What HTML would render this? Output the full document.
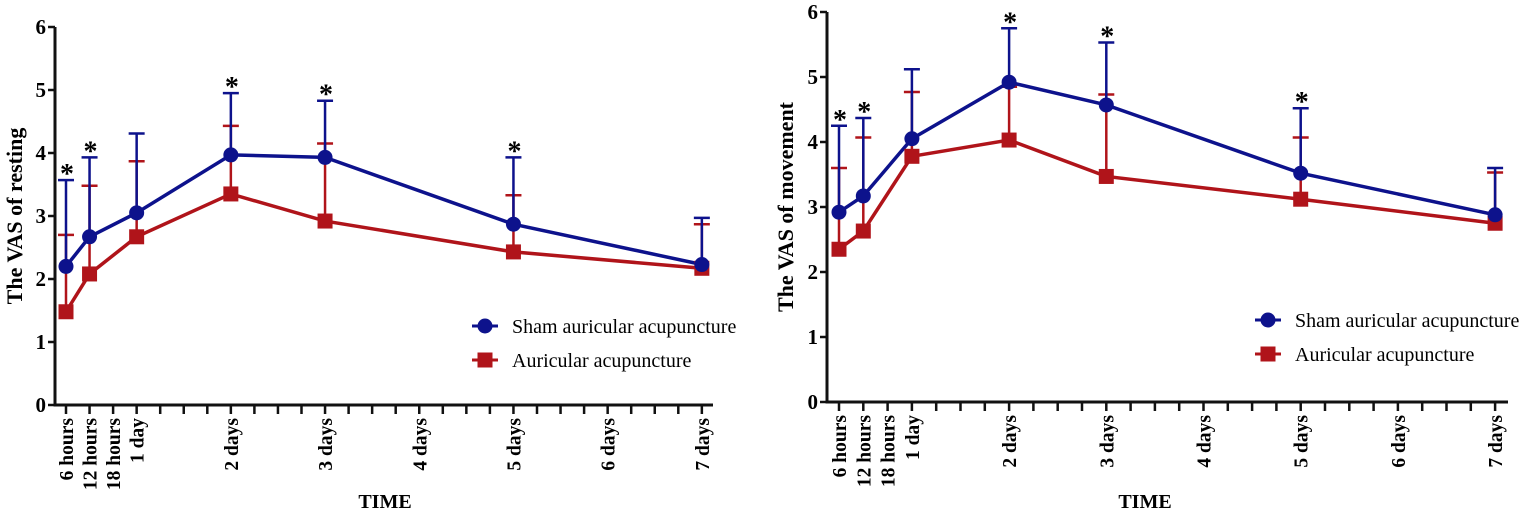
<!DOCTYPE html>
<html><head><meta charset="utf-8"><style>
html,body{margin:0;padding:0;background:#fff;}
svg text{font-family:"Liberation Serif",serif;}
</style></head><body>
<svg id="s" width="1535" height="514" xmlns="http://www.w3.org/2000/svg"></svg>
<script>
const s=document.getElementById('s');let h='';
const B='#0d128c',R='#b0141a';
function chart(c){
 const X=i=>c.x0+(i-1)*c.dx, Y=v=>c.y0-v*(c.y0-c.y6)/6;
 h+=`<line x1="${c.ax}" y1="${c.y6}" x2="${c.ax}" y2="${c.y0+1.5}" stroke="#111" stroke-width="3"/>`;
 h+=`<line x1="${c.ax}" y1="${c.y0}" x2="${c.xe}" y2="${c.y0}" stroke="#111" stroke-width="3"/>`;
 for(let v=0;v<=6;v++){h+=`<line x1="${c.ax-7}" y1="${Y(v)}" x2="${c.ax}" y2="${Y(v)}" stroke="#111" stroke-width="2.5"/>`;
  h+=`<text x="${c.ax-9}" y="${Y(v)+7}" font-size="21" font-weight="bold" text-anchor="end">${v}</text>`;}
 for(let i=1;i<=28;i++)h+=`<line x1="${X(i)}" y1="${c.y0}" x2="${X(i)}" y2="${c.y0+9}" stroke="#111" stroke-width="2.5"/>`;
 const labs={1:'6 hours',2:'12 hours',3:'18 hours',4:'1 day',8:'2 days',12:'3 days',16:'4 days',20:'5 days',24:'6 days',28:'7 days'};
 for(const k in labs){const x=X(+k)+7,y=c.y0+13;h+=`<text transform="translate(${x},${y}) rotate(-90)" font-size="19.5" font-weight="bold" text-anchor="end">${labs[k]}</text>`;}
 h+=`<text x="${c.tx}" y="508" font-size="20" font-weight="bold" text-anchor="middle">TIME</text>`;
 h+=`<text transform="translate(${c.lx},${(c.y0+c.y6)/2}) rotate(-90)" font-size="22" font-weight="bold" text-anchor="middle">${c.title}</text>`;
 const idx=[1,2,4,8,12,20,28];
 idx.forEach((i,k)=>{h+=`<line x1="${X(i)}" y1="${Y(c.r[k])}" x2="${X(i)}" y2="${Y(c.re[k])}" stroke="${R}" stroke-width="2.5"/><line x1="${X(i)-8}" y1="${Y(c.re[k])}" x2="${X(i)+8}" y2="${Y(c.re[k])}" stroke="${R}" stroke-width="2.5"/>`;});
 idx.forEach((i,k)=>{h+=`<line x1="${X(i)}" y1="${Y(c.b[k])}" x2="${X(i)}" y2="${Y(c.be[k])}" stroke="${B}" stroke-width="2.5"/><line x1="${X(i)-8}" y1="${Y(c.be[k])}" x2="${X(i)+8}" y2="${Y(c.be[k])}" stroke="${B}" stroke-width="2.5"/>`;
  if(c.star[k])h+=`<text x="${X(i)+1}" y="${Y(c.be[k])+3}" font-size="28" font-weight="bold" text-anchor="middle" font-family="Liberation Sans, sans-serif">*</text>`;});
 h+=`<polyline fill="none" stroke="${R}" stroke-width="3.5" points="${idx.map((i,k)=>X(i)+','+Y(c.r[k])).join(' ')}"/>`;
 h+=`<polyline fill="none" stroke="${B}" stroke-width="3.5" points="${idx.map((i,k)=>X(i)+','+Y(c.b[k])).join(' ')}"/>`;
 idx.forEach((i,k)=>{h+=`<rect x="${X(i)-7.5}" y="${Y(c.r[k])-7.5}" width="15" height="15" fill="${R}"/>`;});
 idx.forEach((i,k)=>{h+=`<circle cx="${X(i)}" cy="${Y(c.b[k])}" r="7.5" fill="${B}"/>`;});
 const m=c.lm;
 h+=`<line x1="${m-13}" y1="${c.ly}" x2="${m+13}" y2="${c.ly}" stroke="${B}" stroke-width="3"/><circle cx="${m}" cy="${c.ly}" r="7.5" fill="${B}"/>`;
 h+=`<line x1="${m-13}" y1="${c.ly+34}" x2="${m+13}" y2="${c.ly+34}" stroke="${R}" stroke-width="3"/><rect x="${m-7.5}" y="${c.ly+26.5}" width="15" height="15" fill="${R}"/>`;
 h+=`<text x="${m+27}" y="${c.ly+7}" font-size="20">Sham auricular acupuncture</text>`;
 h+=`<text x="${m+27}" y="${c.ly+41}" font-size="20">Auricular acupuncture</text>`;
}
chart({ax:55,y0:405,y6:27,x0:66,dx:23.55,xe:713,tx:385,lx:22,title:'The VAS of resting',lm:485,ly:326,
 b:[2.2,2.67,3.05,3.97,3.93,2.87,2.23],be:[3.57,3.93,4.31,4.95,4.83,3.93,2.97],
 r:[1.48,2.08,2.67,3.35,2.92,2.43,2.17],re:[2.7,3.48,3.87,4.43,4.15,3.33,2.87],star:[1,1,0,1,1,1,0]});
chart({ax:827,y0:402,y6:12,x0:839,dx:24.3,xe:1508,tx:1145,lx:793,title:'The VAS of movement',lm:1268,ly:320,
 b:[2.92,3.17,4.05,4.92,4.57,3.52,2.88],be:[4.25,4.37,5.12,5.75,5.53,4.52,3.6],
 r:[2.35,2.63,3.78,4.03,3.47,3.12,2.75],re:[3.6,4.07,4.77,4.85,4.73,4.07,3.53],star:[1,1,0,1,1,1,0]});
s.innerHTML=h;
</script>
</body></html>
